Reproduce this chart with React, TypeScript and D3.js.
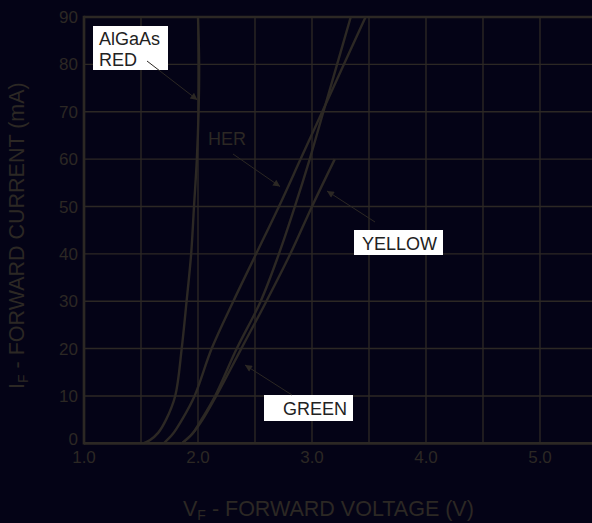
import React, { useEffect, useRef } from "react"
import * as d3 from "d3"

// forward voltage (V) vs forward current (mA)
const redV = [1.52, 1.58, 1.65, 1.72, 1.8, 1.857, 1.9, 1.94, 1.965, 1.99, 2.005, 2.01, 2.0]
const redI = [0, 0.7, 2.2, 5, 10, 20, 30, 40, 50, 60, 70, 80, 90]

const herV = [1.7, 1.78, 1.86, 1.97, 2.12, 2.31, 2.51, 2.71, 2.9, 3.09, 3.28, 3.47]
const herI = [0, 2, 5, 10, 20, 30, 40, 50, 60, 70, 80, 90]

const greenV = [1.86, 1.95, 2.03, 2.15, 2.34, 2.55, 2.71, 2.85, 2.98, 3.1, 3.22, 3.34]
const greenI = [0, 2, 5, 10, 20, 30, 40, 50, 60, 70, 80, 90]

const yellowV = [1.86, 1.95, 2.04, 2.16, 2.38, 2.6, 2.81, 3.0, 3.2]
const yellowI = [0, 2, 5, 10, 20, 30, 40, 50, 60]

const xTicks = [1, 2, 3, 4, 5]
const xGrid = [1.5, 2, 2.5, 3, 3.5, 4, 4.5, 5, 5.5]
const yTicks = [0, 10, 20, 30, 40, 50, 60, 70, 80, 90]

const W = 592
const H = 523
const BG = "#040316"
const INK = "#2c2824"
const FONT = "'Liberation Sans', Arial, Helvetica, sans-serif"

export default function App() {
  const svgRef = useRef<SVGSVGElement>(null)

  useEffect(() => {
    if (!svgRef.current) return
    const svg = d3.select(svgRef.current)
    svg.selectAll("*").remove()

    const x = d3.scaleLinear().domain([1, 5.5]).range([84, 597])
    const y = d3.scaleLinear().domain([0, 90]).range([443.3, 17])

    svg.append("rect").attr("width", W).attr("height", H).attr("fill", BG)

    const defs = svg.append("defs")
    defs.append("marker")
      .attr("id", "arrow")
      .attr("viewBox", "0 0 10 10")
      .attr("refX", 10)
      .attr("refY", 5)
      .attr("markerWidth", 10)
      .attr("markerHeight", 7)
      .attr("markerUnits", "userSpaceOnUse")
      .attr("orient", "auto")
      .append("path")
      .attr("d", "M0,0 L10,5 L0,10 z")
      .attr("fill", INK)

    // grid
    const grid = svg.append("g").attr("stroke", INK).attr("stroke-width", 1.4)
    grid.selectAll(".vg")
      .data(xGrid)
      .enter().append("line")
      .attr("x1", d => x(d)).attr("x2", d => x(d))
      .attr("y1", y(0)).attr("y2", y(90))
    grid.selectAll(".hg")
      .data(yTicks)
      .enter().append("line")
      .attr("x1", x(1)).attr("x2", W)
      .attr("y1", d => y(d)).attr("y2", d => y(d))

    // frame
    const frame = svg.append("g").attr("stroke", INK).attr("stroke-width", 2.7)
    frame.append("line").attr("x1", x(1)).attr("x2", x(1)).attr("y1", y(0) + 1.3).attr("y2", y(90) - 1.3)
    frame.append("line").attr("x1", x(1)).attr("x2", W).attr("y1", y(0)).attr("y2", y(0))
    frame.append("line").attr("x1", x(1)).attr("x2", W).attr("y1", y(90)).attr("y2", y(90))

    // tick labels
    svg.append("g")
      .selectAll("text")
      .data(yTicks)
      .enter().append("text")
      .attr("x", 78)
      .attr("y", d => (d === 0 ? y(d) - 4 : y(d)))
      .attr("dy", "0.36em")
      .attr("text-anchor", "end")
      .attr("fill", INK)
      .style("font-family", FONT)
      .style("font-size", "17px")
      .text(d => d)

    svg.append("g")
      .selectAll("text")
      .data(xTicks)
      .enter().append("text")
      .attr("x", d => x(d))
      .attr("y", 463)
      .attr("text-anchor", "middle")
      .attr("fill", INK)
      .style("font-family", FONT)
      .style("font-size", "17px")
      .text(d => d.toFixed(1))

    // axis titles
    const xt = svg.append("text")
      .attr("x", 183)
      .attr("y", 516)
      .attr("fill", INK)
      .style("font-family", FONT)
      .style("font-size", "21.5px")
    xt.append("tspan").text("V")
    xt.append("tspan").attr("dy", 4).style("font-size", "14px").text("F")
    xt.append("tspan").attr("dy", -4).text(" - FORWARD VOLTAGE (V)")

    const yt = svg.append("text")
      .attr("transform", "translate(24,389) rotate(-90)")
      .attr("fill", INK)
      .style("font-family", FONT)
      .style("font-size", "21.5px")
    yt.append("tspan").text("I")
    yt.append("tspan").attr("dy", 4).style("font-size", "14px").text("F")
    yt.append("tspan").attr("dy", -4).text(" - FORWARD CURRENT (mA)")

    // curves
    const series = [
      { v: redV, i: redI },
      { v: herV, i: herI },
      { v: greenV, i: greenI },
      { v: yellowV, i: yellowI },
    ]
    const line = d3.line<[number, number]>()
      .x(d => x(d[0]))
      .y(d => y(d[1]))
      .curve(d3.curveCatmullRom.alpha(0.5))

    series.forEach(s => {
      const pts = s.v.map((v, k) => [v, s.i[k]] as [number, number])
      svg.append("path")
        .datum(pts)
        .attr("fill", "none")
        .attr("stroke", INK)
        .attr("stroke-width", 2.4)
        .attr("d", line)
    })

    // labels and arrows
    const arrow = (x1: number, y1: number, x2: number, y2: number) => {
      svg.append("line")
        .attr("x1", x1).attr("y1", y1)
        .attr("x2", x2).attr("y2", y2)
        .attr("stroke", INK)
        .attr("stroke-width", 1)
        .attr("marker-end", "url(#arrow)")
    }

    const box = (bx: number, by: number, bw: number, bh: number) => {
      svg.append("rect")
        .attr("x", bx).attr("y", by)
        .attr("width", bw).attr("height", bh)
        .attr("fill", "#ffffff")
    }

    const label = (tx: number, ty: number, s: string, color: string) => {
      svg.append("text")
        .attr("x", tx).attr("y", ty)
        .attr("fill", color)
        .style("font-family", FONT)
        .style("font-size", "18px")
        .text(s)
    }

    box(93, 26, 75, 44)
    label(99, 45, "AlGaAs", "#222222")
    label(99, 66, "RED", "#222222")
    arrow(147, 61, x(1.995), y(72.5))

    label(208, 145, "HER", INK)
    arrow(233, 154, x(2.72), y(54.2))

    box(354, 230, 89, 25)
    label(362, 250, "YELLOW", "#222222")
    arrow(375, 222, 327, 191)

    box(264, 395, 89, 26)
    label(283, 415, "GREEN", "#222222")
    arrow(292, 395, 245, 365)
  }, [])

  return (
    <svg
      ref={svgRef}
      width={W}
      height={H}
      viewBox={`0 0 ${W} ${H}`}
      style={{ position: "absolute", left: 0, top: 0, display: "block" }}
    />
  )
}
